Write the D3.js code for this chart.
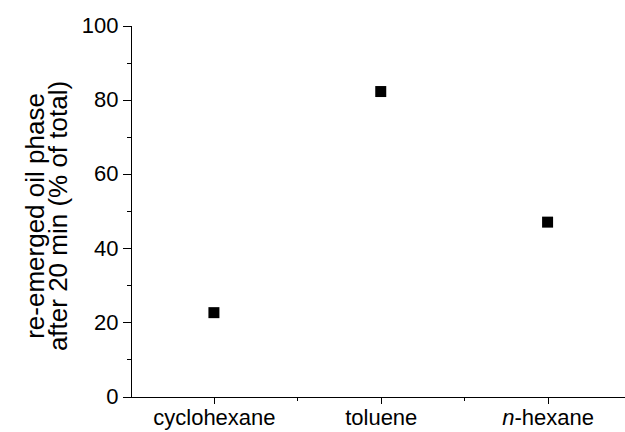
<!DOCTYPE html>
<html>
<head>
<meta charset="utf-8">
<script src="https://cdn.jsdelivr.net/npm/d3@7"></script>
<style>
  body { margin: 0; background: #fff; }
  svg { display: block; font-family: "Liberation Sans", Arial, sans-serif; }
  .axis path, .axis line { stroke: #000; shape-rendering: crispEdges; }
  .axis text { fill: #000; font-size: 22px; font-family: "Liberation Sans", Arial, sans-serif; }
</style>
</head>
<body>
<div id="chart"></div>
<script>
// solvents on the x axis
var solvents = ["cyclohexane", "toluene", "n-hexane"];
// re-emerged oil phase after 20 min (% of total)
var reEmerged = [22.6, 82.2, 47.0];
var yMajorTicks = [0, 20, 40, 60, 80, 100];
var yMinorTicks = [10, 30, 50, 70, 90];

var width = 625;
var height = 432;

var svg = d3.select("#chart").append("svg")
  .attr("width", width)
  .attr("height", height);

// categories sit at 1, 2, 3 on an index scale
var xScale = d3.scaleLinear().domain([0.5, 3.5]).range([130.5, 631]);
var yScale = d3.scaleLinear().domain([0, 100]).range([396.5, 25.5]);

/// minor ticks first, under the major ones
svg.append("g")
  .attr("class", "axis")
  .attr("transform", "translate(0," + yScale(0) + ")")
  .call(d3.axisBottom(xScale).tickValues([1.5, 2.5]).tickSize(4).tickSizeOuter(0).tickFormat(""));

svg.append("g")
  .attr("class", "axis")
  .attr("transform", "translate(" + xScale(0.5) + ",0)")
  .call(d3.axisLeft(yScale).tickValues(yMinorTicks).tickSize(4).tickSizeOuter(0).tickFormat(""));

/// major axes
var xAxis = svg.append("g")
  .attr("class", "axis")
  .attr("transform", "translate(0," + yScale(0) + ")")
  .call(d3.axisBottom(xScale).tickValues([1, 2, 3]).tickSize(7).tickSizeOuter(0)
    .tickPadding(6).tickFormat(function (d) { return solvents[d - 1]; }));

// italic n in n-hexane
xAxis.selectAll(".tick text")
  .filter(function (d) { return solvents[d - 1] === "n-hexane"; })
  .text(null)
  .call(function (t) {
    t.append("tspan").style("font-style", "italic").text("n");
    t.append("tspan").text("-hexane");
  });

svg.append("g")
  .attr("class", "axis")
  .attr("transform", "translate(" + xScale(0.5) + ",0)")
  .call(d3.axisLeft(yScale).tickValues(yMajorTicks).tickSize(8).tickSizeOuter(0).tickPadding(4));

/// y axis title, two lines
var yTitle = svg.append("text")
  .attr("transform", "translate(44,216)rotate(-90)")
  .attr("text-anchor", "middle")
  .attr("font-size", 26)
  .attr("fill", "#000");
yTitle.append("tspan").attr("x", 0).attr("y", 0).text("re-emerged oil phase");
yTitle.append("tspan").attr("x", 0).attr("y", 23).text("after 20 min (% of total)");

/// points
svg.append("g").selectAll("path")
  .data(reEmerged)
  .enter()
  .append("path")
  .attr("d", d3.symbol().type(d3.symbolSquare).size(121))
  .attr("transform", function (d, i) {
    return "translate(" + xScale(i + 1) + "," + yScale(d) + ")";
  })
  .attr("fill", "#000");
</script>
</body>
</html>
